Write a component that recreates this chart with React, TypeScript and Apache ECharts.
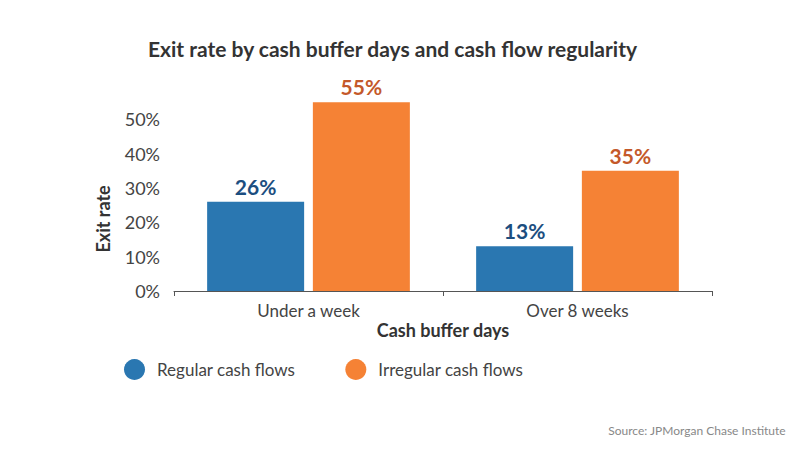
import React, { useEffect, useRef } from "react";
import * as echarts from "echarts";

const categories = ["Under a week", "Over 8 weeks"];
const regular = [26, 13];
const irregular = [55, 35];
const seriesNames = ["Regular cash flows", "Irregular cash flows"];
const yTicks = [0, 10, 20, 30, 40, 50];

const FONT = "Lato, 'Open Sans', sans-serif";

export default function App() {
  const ref = useRef<HTMLDivElement>(null);
  useEffect(() => {
    if (!ref.current) return;
    const chart = echarts.init(ref.current, undefined, { renderer: "svg" });
    chart.setOption({
      animation: false,
      backgroundColor: "#ffffff",
      textStyle: { fontFamily: FONT },
      title: {
        text: "Exit rate by cash buffer days and cash flow regularity",
        left: 143,
        top: 33,
        textStyle: { fontFamily: FONT, fontSize: 21, fontWeight: "bold", color: "#333333" },
      },
      legend: {
        left: 119,
        top: 354,
        icon: "circle",
        itemWidth: 21,
        itemHeight: 21,
        itemGap: 50,
        data: seriesNames,
        textStyle: { fontFamily: FONT, fontSize: 17, color: "#444444", padding: [0, 0, 0, 7] },
      },
      grid: { left: 174, right: 88, top: 85, bottom: 159 },
      xAxis: {
        type: "category",
        data: categories,
        name: "Cash buffer days",
        nameLocation: "middle",
        nameGap: 30,
        nameTextStyle: { fontFamily: FONT, fontSize: 18, fontWeight: "bold", color: "#333333" },
        axisLine: { lineStyle: { color: "#555555", width: 1 } },
        axisTick: { show: true, length: 5, lineStyle: { color: "#555555" } },
        axisLabel: { fontFamily: FONT, fontSize: 17, color: "#444444", margin: 11 },
      },
      yAxis: {
        type: "value",
        min: 0,
        max: 60,
        interval: 10,
        name: "Exit rate",
        nameLocation: "middle",
        nameGap: 62,
        nameTextStyle: {
          fontFamily: FONT,
          fontSize: 18,
          fontWeight: "bold",
          color: "#333333",
          padding: [0, 62, 0, 0],
        },
        axisLine: { show: false },
        axisTick: { show: false },
        splitLine: { show: false },
        axisLabel: {
          fontFamily: FONT,
          fontSize: 18,
          color: "#444444",
          margin: 14,
          padding: [0, 0, 9, 0],
          formatter: (v: number) => (yTicks.indexOf(v) >= 0 ? v + "%" : ""),
        },
      },
      series: [
        {
          name: seriesNames[0],
          type: "bar",
          data: regular,
          barWidth: 97,
          barGap: "9%",
          itemStyle: { color: "#2a77b1" },
          label: {
            show: true,
            position: "top",
            distance: 5,
            formatter: "{c}%",
            fontFamily: FONT,
            fontSize: 21,
            fontWeight: "bold",
            color: "#1c4e80",
          },
        },
        {
          name: seriesNames[1],
          type: "bar",
          data: irregular,
          barWidth: 97,
          itemStyle: { color: "#f58235" },
          label: {
            show: true,
            position: "top",
            distance: 5,
            formatter: "{c}%",
            fontFamily: FONT,
            fontSize: 21,
            fontWeight: "bold",
            color: "#c4592a",
          },
        },
      ],
      graphic: [
        {
          type: "text",
          right: 14,
          bottom: 14,
          style: {
            text: "Source: JPMorgan Chase Institute",
            fontFamily: FONT,
            fontSize: 12,
            fill: "#888888",
          },
        },
      ],
    });
    return () => chart.dispose();
  }, []);
  return (
    <div
      ref={ref}
      style={{ position: "absolute", left: 0, top: 0, width: 800, height: 450 }}
    />
  );
}
